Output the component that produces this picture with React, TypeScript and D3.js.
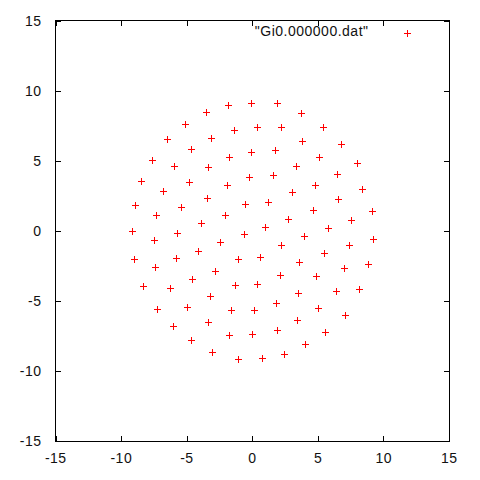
import React, { useEffect, useRef } from 'react';
import * as d3 from 'd3';

// point positions
const xs = [
  -3.53, -5.10, -6.48, -3.14, -4.67, -7.62, -5.94, -3.37, -8.46, -4.80,
  -1.83, -0.07, 1.89, -1.37, 0.36, 2.21, -1.77, -0.07, 1.73, 3.34,
  -0.25, 1.58, -1.90, 3.74, 5.42, 3.82, 6.77, 5.11, 7.99, 6.46,
  4.81, -6.78, -3.43, -8.94, -5.41, -7.31, -3.91, -9.14, -5.71, -7.49,
  -4.11, -9.01, -5.79, -7.39, 3.05, -0.53, 1.20, -2.05, 2.75, 0.99,
  -0.61, -2.46, 2.21, -1.06, 0.61, -2.82, 2.15, 8.37, 6.56, 4.65,
  9.15, 7.55, 5.80, 3.95, 9.23, 7.40, 5.47, 3.59, 8.85, 6.99,
  4.88, -4.59, -8.33, -6.25, -3.22, -7.24, -4.97, -3.37, -6.04, -4.67,
  -3.07, -1.29, 0.38, 1.83, -1.60, 0.16, 1.89, -1.75, 0.0, 3.41,
  -1.06, 0.77, 2.44, 3.51, 6.41, 8.14, 5.04, 7.09, 5.57, 4.02,
];
const ys = [
  8.45, 7.59, 6.52, 6.64, 5.81, 5.03, 4.60, 4.53, 3.53, 3.48,
  8.95, 9.14, 9.09, 7.21, 7.38, 7.38, 5.24, 5.60, 5.74, 4.60,
  3.81, 3.96, 3.26, 8.38, 7.38, 6.38, 6.19, 5.24, 4.83, 4.03,
  3.24, 2.81, 2.32, 1.84, 1.67, 1.12, 0.53, -0.04, -0.16, -0.68,
  -1.44, -2.04, -1.94, -2.61, 2.74, 1.89, 2.07, 1.12, 0.86, 0.25,
  -0.23, -0.82, -1.04, -2.04, -1.89, -2.84, -3.16, 2.96, 2.24, 1.46,
  1.39, 0.75, 0.17, -0.40, -0.61, -1.04, -1.59, -2.21, -2.39, -2.68,
  -3.26, -3.46, -3.96, -4.11, -4.66, -5.60, -5.46, -6.53, -6.82, -7.82,
  -8.64, -3.89, -3.82, -5.18, -5.63, -5.68, -7.10, -7.46, -7.34, -6.39,
  -9.17, -9.10, -8.81, -4.46, -4.32, -4.18, -5.53, -6.03, -7.24, -8.10,
];
const ticks = [-15, -10, -5, 0, 5, 10, 15];
const legendLabel = '"Gi0.000000.dat"';

const App = () => {
  const ref = useRef<SVGSVGElement>(null);

  useEffect(() => {
    const left = 55.5, right = 449, top = 20.5, bottom = 441;
    const svg = d3.select(ref.current);
    svg.selectAll('*').remove();

    const x = d3.scaleLinear().domain([-15, 15]).range([left, right]);
    const y = d3.scaleLinear().domain([-15, 15]).range([bottom, top]);
    const font = '"Liberation Sans", Arial, sans-serif';
    const tl = 5;

    const g = svg.append('g').attr('shape-rendering', 'crispEdges');
    g.append('rect').attr('x', left).attr('y', top).attr('width', right - left).attr('height', bottom - top)
      .attr('fill', 'none').attr('stroke', '#000');

    const label = (sel: d3.Selection<SVGTextElement, unknown, null, undefined>) =>
      sel.style('font-family', font).style('font-size', '14px').style('letter-spacing', '0.5px').attr('fill', '#111');

    ticks.forEach(t => {
      const px = Math.round(x(t)) + 0.5;
      const py = Math.round(y(t)) + 0.5;
      g.append('line').attr('x1', px).attr('x2', px).attr('y1', bottom).attr('y2', bottom - tl).attr('stroke', '#000');
      g.append('line').attr('x1', px).attr('x2', px).attr('y1', top).attr('y2', top + tl).attr('stroke', '#000');
      g.append('line').attr('x1', left).attr('x2', left + tl).attr('y1', py).attr('y2', py).attr('stroke', '#000');
      g.append('line').attr('x1', right).attr('x2', right - tl).attr('y1', py).attr('y2', py).attr('stroke', '#000');

      label(svg.append('text').attr('x', x(t) + 0.25).attr('y', 463).attr('text-anchor', 'middle')).text(t);
      label(svg.append('text').attr('x', 41.5).attr('y', y(t) + 5).attr('text-anchor', 'end')).text(t);
    });

    const plus = (cx: number, cy: number) =>
      `M${cx - 3.5},${cy}H${cx + 3.5}M${cx},${cy - 3.5}V${cy + 3.5}`;

    svg.append('g').selectAll('path').data(d3.range(xs.length)).join('path')
      .attr('d', i => plus(Math.round(x(xs[i])) + 0.5, Math.round(y(ys[i])) + 0.5))
      .attr('stroke', '#ff0000').attr('stroke-width', 1).attr('fill', 'none');

    label(svg.append('text').attr('x', 368.5).attr('y', 36).attr('text-anchor', 'end')).text(legendLabel);
    svg.append('path').attr('d', plus(407.5, 33.5)).attr('stroke', '#ff0000').attr('fill', 'none');
  }, []);

  return (
    <svg ref={ref} width={480} height={480} style={{ position: 'absolute', left: 0, top: 0, background: '#fff' }} />
  );
};

export default App;
